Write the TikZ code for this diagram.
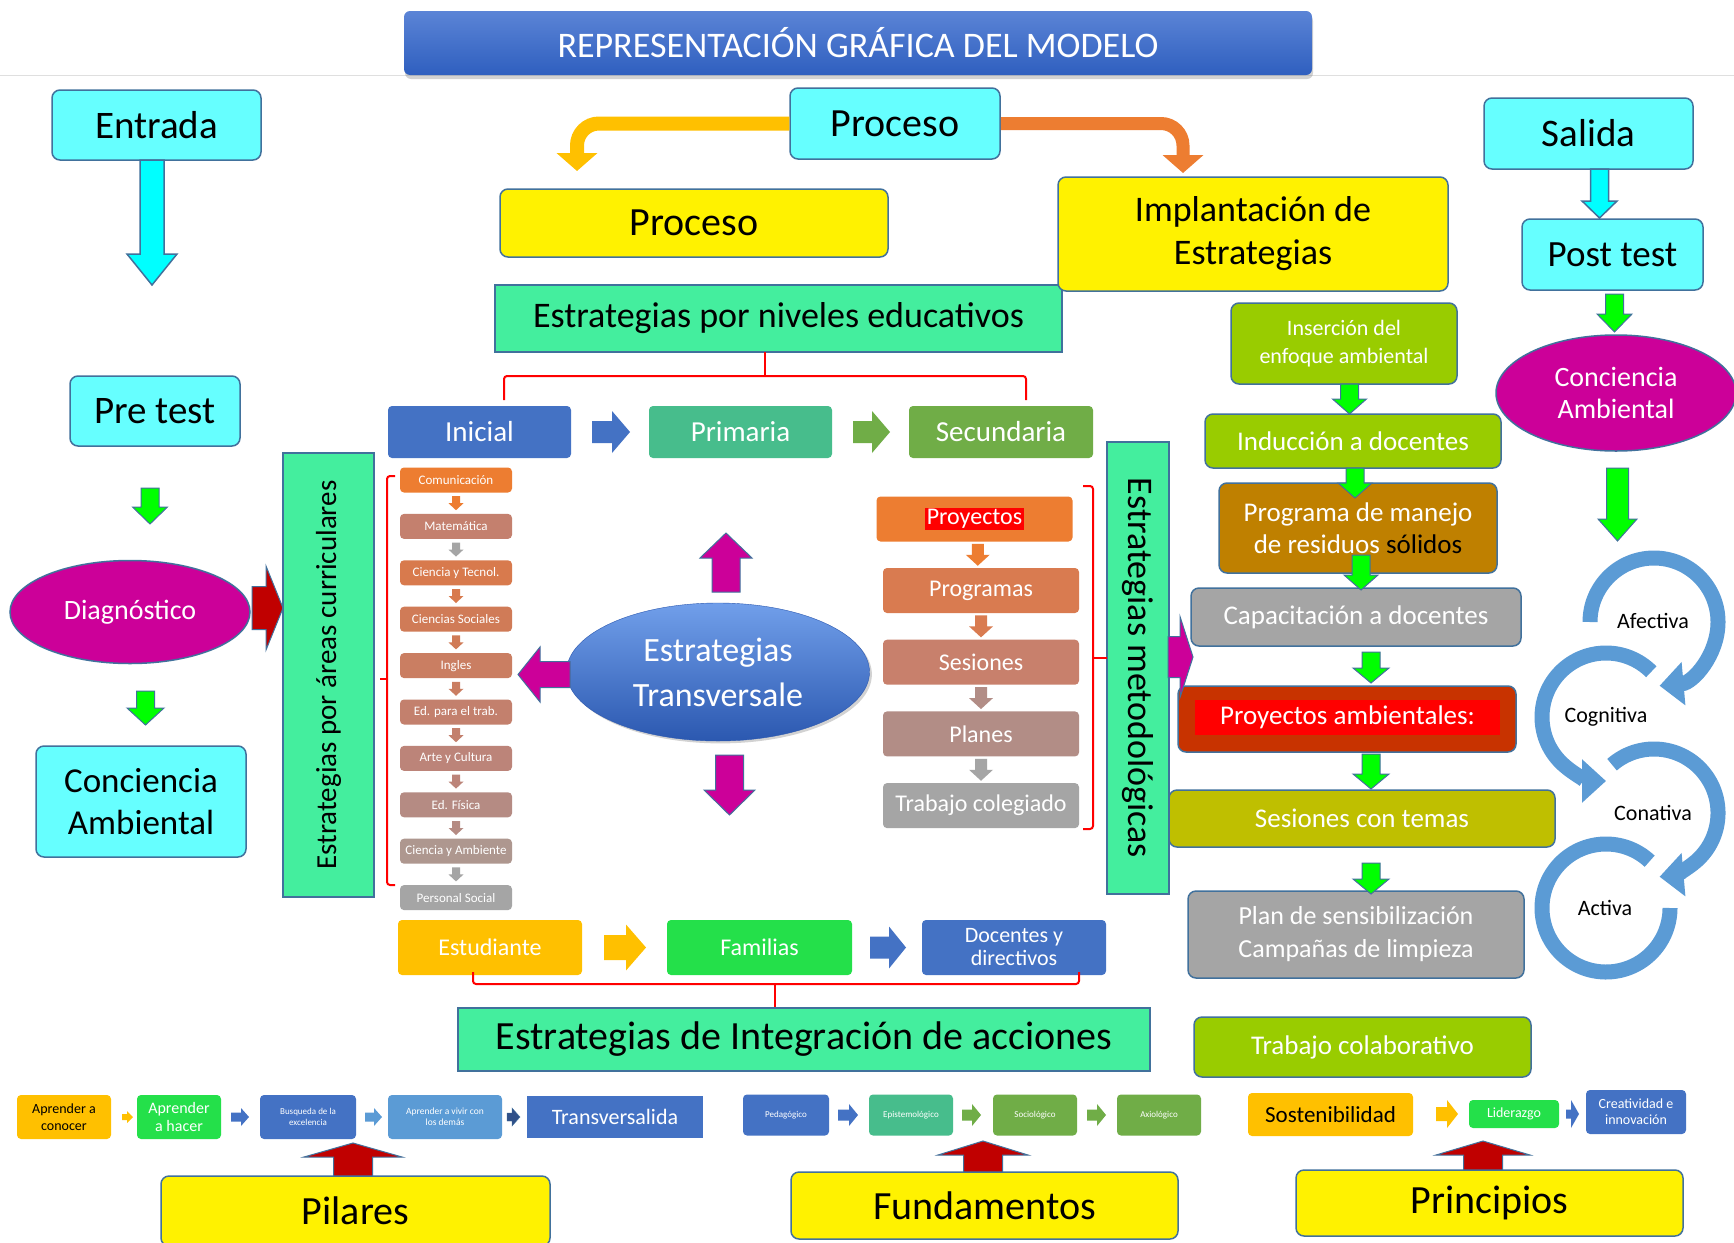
\documentclass[tikz,border=0pt]{standalone}
\usepackage{fontspec}
\setmainfont{Carlito}
\usetikzlibrary{shapes.geometric, arrows.meta, calc, positioning, shadows, backgrounds}

\definecolor{bordc}{HTML}{41719C}
\definecolor{cyanf}{HTML}{66FFFF}
\definecolor{cyanar}{HTML}{00FFFF}
\definecolor{mint}{HTML}{44EE9E}
\definecolor{magen}{HTML}{CC0099}
\definecolor{azul}{HTML}{4472C4}
\definecolor{azulc}{HTML}{5B9BD5}
\definecolor{verdeag}{HTML}{47BD8C}
\definecolor{oliva}{HTML}{70AD47}
\definecolor{limon}{HTML}{99CC00}
\definecolor{ocre}{HTML}{BF8000}
\definecolor{gris}{HTML}{A5A5A5}
\definecolor{rojizo}{HTML}{C83300}
\definecolor{mostaza}{HTML}{BFBF00}
\definecolor{naranja}{HTML}{ED7D31}
\definecolor{oro}{HTML}{FFC000}
\definecolor{verdev}{HTML}{24E04A}
\definecolor{verdef}{HTML}{00FF00}
\definecolor{granate}{HTML}{C00000}
\definecolor{tit1}{HTML}{5B84D6}
\definecolor{tit2}{HTML}{2F5FBF}
\definecolor{elip1}{HTML}{719FEA}
\definecolor{elip2}{HTML}{2B58B0}
% areas curriculares
\definecolor{lc1}{HTML}{ED7D31}
\definecolor{lc2}{HTML}{C4806E}
\definecolor{lc3}{HTML}{D87A4D}
\definecolor{lc4}{HTML}{D07B57}
\definecolor{lc5}{HTML}{CA7E62}
\definecolor{lc6}{HTML}{C3806D}
\definecolor{lc7}{HTML}{BC8479}
\definecolor{lc8}{HTML}{B58B83}
\definecolor{lc9}{HTML}{AE978F}
\definecolor{lc10}{HTML}{A5A5A5}
% estrategias metodologicas
\definecolor{rl2}{HTML}{D97B50}
\definecolor{rl3}{HTML}{C8806C}
\definecolor{rl4}{HTML}{B28D86}

\newcommand{\fsz}[2]{\fontsize{#1}{#2}\selectfont}
\setlength{\fboxsep}{1.5pt}

\begin{document}
\begin{tikzpicture}[x=1pt, y=-1pt,
    rbase/.style={rounded corners=8pt, draw=bordc, line width=1.5pt, inner sep=0pt, align=center},
    cybox/.style={rbase, fill=cyanf, font=\fsz{39}{44}},
    yebox/.style={rbase, fill=yellow, font=\fsz{40}{44}},
    rbox/.style={rbase, text=white, font=\fsz{27}{30}},
    mintbox/.style={draw=bordc, line width=1.5pt, fill=mint, inner sep=0pt, align=center},
    flat/.style={rounded corners=4pt, inner sep=0pt, align=center, text=white},
    sz/.style 2 args={minimum width=#1pt, minimum height=#2pt},
    brk/.style={red, line width=2pt, rounded corners=3pt},
    ring/.style={azulc, line width=15pt},
    garr/.style={fill=verdef, draw=bordc, line width=1pt},
    marr/.style={fill=magen, draw=bordc, line width=1pt},
    pics/fatarr/.style args={#1/#2/#3/#4}{code={
      \path[pic actions] (-#1/2,-#2/2) -- (#1/2-#4,-#2/2) -- (#1/2-#4,-#3/2) -- (#1/2,0)
        -- (#1/2-#4,#3/2) -- (#1/2-#4,#2/2) -- (-#1/2,#2/2) -- cycle;}}
  ]

\useasboundingbox (0,0) rectangle (1734,1242);
\clip (0,0) rectangle (1734,1242);
\fill[white] (0,0) rectangle (1734,1242);

% titulo
\draw[gray!25, line width=1pt] (0,75) -- (1734,75);
\node[rounded corners=6pt, sz={908}{64}, top color=tit1, bottom color=tit2, text=white,
      font=\fsz{36}{40}, drop shadow={opacity=0.35, shadow xshift=1pt, shadow yshift=-4pt}]
      (titulo) at (858,43) {REPRESENTACIÓN GRÁFICA DEL MODELO};

% entrada
\node[cybox, sz={209}{70}] (entrada) at (156.5,125) {Entrada};
\pic[fill=cyanar, draw=bordc, line width=1.5pt, rotate=-90] at (152,222.5) {fatarr=125/24/50/31};
\node[cybox, sz={170}{70}] (pretest) at (155,411) {Pre test};
\pic[garr, rotate=-90] at (150,506) {fatarr=36/18/35/17};
\node[ellipse, fill=magen, draw=bordc, line width=1.5pt, sz={240}{103}, inner sep=0pt,
      text=white, font=\fsz{28}{32}] (diag) at (130,612) {Diagnóstico};
\pic[fill=granate, draw=bordc, line width=1pt] at (267.5,608) {fatarr=31/43/84/17};
\pic[garr, rotate=-90] at (145.5,708) {fatarr=34/18/37/17};
\node[cybox, sz={210}{111}, font=\fsz{35}{42}] (concizq) at (141,801.5) {Conciencia\\Ambiental};

% areas curriculares
\node[mintbox, rotate=90, sz={444}{91}, font=\fsz{29}{32}] (curric) at (328.5,675) {Estrategias por áreas curriculares};
\foreach \t/\c [count=\i] in {Comunicación/lc1, Matemática/lc2, Ciencia y Tecnol./lc3,
    Ciencias Sociales/lc4, Ingles/lc5, Ed. para el trab./lc6, Arte y Cultura/lc7,
    Ed. Física/lc8, Ciencia y Ambiente/lc9, Personal Social/lc10}
  \node[flat, fill=\c, sz={112}{25}, font=\fsz{13}{14}] (cu\i) at (456,{480+46.4*(\i-1)}) {\t};
\foreach \c [count=\i] in {lc1, gris, lc3, lc4, lc5, lc6, lc7, lc8, gris} {
  \pgfmathtruncatemacro\j{\i+1}
  \pic[fill=\c, rotate=-90] at ($(cu\i.south)!0.5!(cu\j.north)$) {fatarr=14/8/15/7};
}
\draw[brk] (395,476) -- (387,476) -- (387,885) -- (395,885);
\draw[brk] (387,679) -- (380,679);

% niveles
\node[mintbox, sz={567}{67}, font=\fsz{36}{40}] (niveles) at (778.5,318.5) {Estrategias por niveles educativos};
\draw[brk] (504,400) -- (504,376) -- (1026,376) -- (1026,400);
\draw[brk] (765,376) -- (765,352);
\node[flat, fill=azul, sz={183}{52}, font=\fsz{29}{32}] (inicial) at (479.5,432) {Inicial};
\pic[fill=azul] at (611,432) {fatarr=38/22/42/18};
\node[flat, fill=verdeag, sz={183}{52}, font=\fsz{29}{32}] (primaria) at (740.5,432) {Primaria};
\pic[fill=oliva] at (871.5,432) {fatarr=37/22/42/18};
\node[flat, fill=oliva, sz={184}{52}, font=\fsz{29}{32}] (secund) at (1001,432) {Secundaria};

% proceso
\node[cybox, sz={210}{71}, font=\fsz{40}{44}] (proc) at (895,123.5) {Proceso};
\coordinate (ptl) at (577,171);
\coordinate (ptr) at (1183,173);
\draw[oro, line width=14pt, rounded corners=22pt, -{Triangle[width=40pt,length=18pt]}] (proc.west) -| (ptl);
\draw[naranja, line width=13pt, rounded corners=22pt, -{Triangle[width=40pt,length=18pt]}] (proc.east) -| (ptr);
\node[yebox, sz={388}{68}] (procy) at (694,223) {Proceso};
\node[yebox, sz={390}{114}, font=\fsz{36}{43}] (impl) at (1253,234) {Implantación de\\Estrategias};

% salida
\node[cybox, sz={209}{71}] (salida) at (1588.5,133.5) {Salida};
\pic[fill=cyanar, draw=bordc, line width=1.5pt, rotate=-90] at (1599.5,193.5) {fatarr=49/18/35/17};
\node[cybox, sz={181}{71}, font=\fsz{37}{40}] (postest) at (1612.5,254.5) {Post test};
\pic[garr, rotate=-90] at (1614.5,313) {fatarr=38/18/35/18};
\node[ellipse, fill=magen, draw=bordc, line width=1.5pt, sz={240}{116}, inner sep=0pt, text=white,
      align=center, font=\fsz{28}{32}] (concder) at (1616,393) {Conciencia\\Ambiental};
\pic[garr, rotate=-90] at (1617.5,504.5) {fatarr=73/22/39/22};

% ciclo de actitudes
\draw[ring, -{Triangle[width=42pt,length=24pt]}] (1654,622) ++(-180:64) arc[start angle=-180, end angle=85, radius=64];
\draw[ring, -{Triangle[width=42pt,length=24pt]}] (1606,717) ++(-45:64) arc[start angle=-45, end angle=-270, radius=64];
\draw[ring, -{Triangle[width=42pt,length=24pt]}] (1654,813) ++(-131:64) arc[start angle=-131, end angle=85, radius=64];
\draw[ring] (1606,908) ++(-47:64) arc[start angle=-47, end angle=-360, radius=64];
\node[font=\fsz{22}{24}] (afec) at (1653,621) {Afectiva};
\node[font=\fsz{22}{24}] (cogn) at (1606,717) {Cognitiva};
\node[font=\fsz{22}{24}] (conat) at (1653,813) {Conativa};
\node[font=\fsz{22}{24}] (activ) at (1605,908) {Activa};

% implantacion
\node[rbox, fill=limon, sz={226}{81}, font=\fsz{22}{28}] (inser) at (1344,343.5) {Inserción del\\enfoque ambiental};
\node[rbox, fill=limon, sz={296}{54}] (induc) at (1353,441) {Inducción a docentes};
\node[rbox, fill=ocre, sz={278}{90}, font=\fsz{27}{32}] (progr) at (1358,528) {Programa de manejo\\de residuos \textcolor{black}{sólidos}};
\node[rbox, fill=gris, sz={330}{58}] (capac) at (1356,617) {Capacitación a docentes};
\node[rbox, fill=rojizo, sz={338}{66}] (proyamb) at (1347,719) {};
\node[fill=red, text=white, sz={305}{35}, inner sep=0pt, font=\fsz{27}{30}] (proyambt) at (1347.5,717.5) {Proyectos ambientales:};
\node[rbox, fill=mostaza, sz={386}{57}] (sesion) at (1362,818.5) {Sesiones con temas};
\node[rbox, fill=gris, sz={336}{87}, font=\fsz{26}{33}] (plan) at (1356,934.5) {Plan de sensibilización\\Campañas de limpieza};
\node[rbox, fill=limon, sz={337}{60}] (trabcol) at (1362.5,1047) {Trabajo colaborativo};
\pic[garr, rotate=-90] at (1349.5,399) {fatarr=30/18/34/15};
\pic[garr, rotate=-90] at (1355,483) {fatarr=30/18/34/15};
\pic[garr, rotate=-90] at (1361,572.5) {fatarr=35/18/34/15};
\pic[garr, rotate=-90] at (1371,667.5) {fatarr=31/18/36/15};
\pic[garr, rotate=-90] at (1371,771.5) {fatarr=35/18/36/15};
\pic[garr, rotate=-90] at (1371,878.5) {fatarr=31/18/36/15};

% metodologicas
\node[mintbox, rotate=-90, sz={452}{62}, font=\fsz{36}{40}] (metod) at (1138,668) {Estrategias metodológicas};
\pic[marr] at (1180.5,657) {fatarr=25/41/81/13};
\node[flat, fill=naranja, sz={196}{45}, font=\fsz{24}{28}] (ry1) at (974.5,519) {\colorbox{red}{Proyectos}};
\foreach \t/\c [count=\i from 2] in {Programas/rl2, Sesiones/rl3, Planes/rl4, Trabajo colegiado/gris}
  \node[flat, fill=\c, sz={196}{45}, font=\fsz{24}{28}] (ry\i) at (981,{590.5+71.7*(\i-2)}) {\t};
\foreach \c [count=\i] in {naranja, rl2, rl4, gris} {
  \pgfmathtruncatemacro\j{\i+1}
  \pic[fill=\c, rotate=-90] at ($(ry\i.south)!0.5!(ry\j.north)$) {fatarr=22/12/24/11};
}
\draw[brk] (1083,486) -- (1093,486) -- (1093,829) -- (1083,829);
\draw[brk] (1093,658) -- (1107,658);

% transversales
\node[ellipse, sz={303}{138}, inner sep=0pt, top color=elip1, bottom color=elip2, draw=elip2,
      text=white, align=center, font=\fsz{34}{45}, drop shadow={opacity=0.35}] (transv) at (718,672) {Estrategias\\Transversale};
\pic[marr, rotate=90] at (726,562.5) {fatarr=59/28/52/25};
\pic[marr, rotate=-90] at (729.5,785) {fatarr=60/28/51/25};
\pic[marr, rotate=180] at (544,674.5) {fatarr=52/26/55/22};

% integracion de acciones
\node[flat, fill=oro, sz={184}{55}, font=\fsz{24}{27}] (estud) at (490,947.5) {Estudiante};
\pic[fill=oro] at (625,947.5) {fatarr=42/25/46/20};
\node[flat, fill=verdev, sz={185}{55}, font=\fsz{24}{27}] (famil) at (759.5,947.5) {Familias};
\pic[fill=azul] at (888,947.5) {fatarr=36/22/42/17};
\node[flat, fill=azul, sz={184}{55}, font=\fsz{22}{23}] (docen) at (1014,947.5) {Docentes y\\directivos};
\draw[brk] (473,972) -- (473,984) -- (1079,984) -- (1079,972);
\draw[brk] (775,984) -- (775,1008);
\node[mintbox, sz={692}{63}, font=\fsz{40}{44}] (integr) at (804,1039.5) {Estrategias de Integración de acciones};

% pilares
\node[flat, fill=oro, text=black, sz={94}{44}, font=\fsz{14}{17}] (apc) at (64,1117) {Aprender a\\conocer};
\pic[fill=oro] at (127.5,1117) {fatarr=11/6/12/6};
\node[flat, fill=verdev, sz={84}{44}, font=\fsz{16}{18}] (aph) at (179,1117) {Aprender\\a hacer};
\pic[fill=azul] at (240,1117) {fatarr=18/9/18/8};
\node[flat, fill=azul, sz={96}{44}, font=\fsz{9}{11}] (busq) at (308,1117) {Busqueda de la\\excelencia};
\pic[fill=azulc] at (373.5,1117) {fatarr=17/9/18/8};
\node[flat, fill=azulc, sz={114}{44}, font=\fsz{9.5}{11}] (apv) at (445,1117) {Aprender a vivir con\\los demás};
\pic[fill=azul!70!black, draw=bordc] at (513.5,1117) {fatarr=13/8/18/8};
\node[flat, fill=azul, rounded corners=0pt, sz={176}{42}, font=\fsz{22}{25}] (transl) at (615,1117) {Transversalida};
\pic[fill=granate, draw=bordc, line width=1pt, rotate=90] at (353,1161) {fatarr=36/39/98/14};
\node[yebox, sz={389}{70}] (pilares) at (355.5,1211) {Pilares};

% fundamentos
\node[flat, fill=azul, sz={86}{41}, font=\fsz{9}{11}] (pedag) at (786,1115) {Pedagógico};
\pic[fill=azul] at (848,1115) {fatarr=20/11/22/9};
\node[flat, fill=verdeag, sz={84}{41}, font=\fsz{9}{11}] (epist) at (911,1115) {Epistemológico};
\pic[fill=oliva] at (971.5,1115) {fatarr=19/11/22/9};
\node[flat, fill=oliva, sz={84}{41}, font=\fsz{9}{11}] (socio) at (1035,1115) {Sociológico};
\pic[fill=oliva] at (1096.5,1115) {fatarr=19/11/22/9};
\node[flat, fill=oliva, sz={84}{41}, font=\fsz{9}{11}] (axio) at (1159,1115) {Axiológico};
\pic[fill=granate, draw=bordc, line width=1pt, rotate=90] at (983,1159) {fatarr=36/39/90/14};
\node[yebox, sz={387}{67}] (fundam) at (984.5,1205.5) {Fundamentos};

% principios
\node[flat, fill=oro, text=black, sz={165}{43}, font=\fsz{23}{26}] (sosten) at (1330.5,1114.5) {Sostenibilidad};
\pic[fill=oro] at (1447,1114) {fatarr=22/14/28/11};
\node[flat, fill=verdev, sz={90}{28}, font=\fsz{14}{16}] (lider) at (1514,1114) {Liderazgo};
\pic[fill=azul] at (1572.5,1114) {fatarr=13/9/28/8};
\node[flat, fill=azul, sz={100}{44}, font=\fsz{14}{16}] (creat) at (1636,1112) {Creatividad e\\innovación};
\pic[fill=granate, draw=bordc, line width=1pt, rotate=90] at (1483,1158) {fatarr=34/39/94/14};
\node[yebox, sz={387}{66}] (princ) at (1489.5,1203) {Principios};

\end{tikzpicture}
\end{document}
